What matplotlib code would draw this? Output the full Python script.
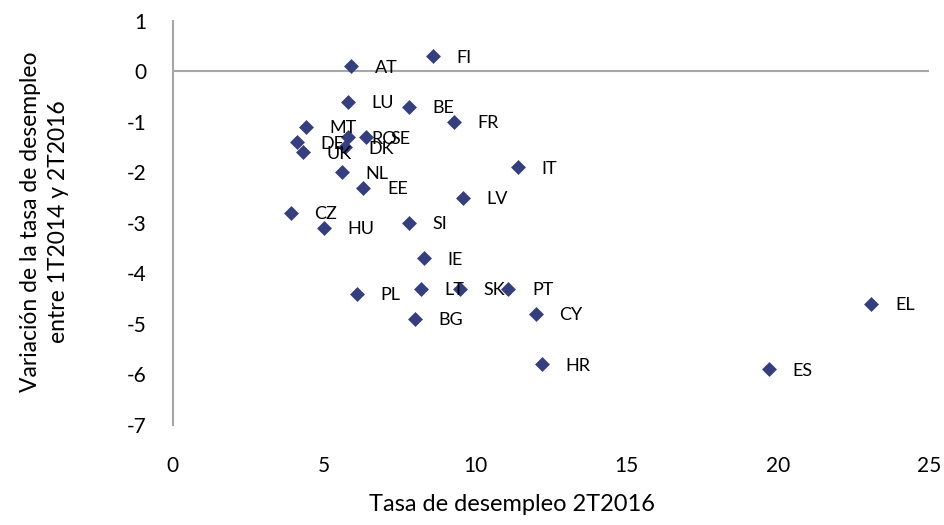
import matplotlib
matplotlib.use("Agg")
import matplotlib.pyplot as plt

# datos: tasa de desempleo 2T2016 y variación entre 1T2014 y 2T2016
paises = ["FI", "AT", "LU", "BE", "FR", "MT", "DE", "UK", "RO", "DK", "SE",
          "NL", "EE", "IT", "LV", "CZ", "HU", "SI", "IE", "PL", "LT", "SK",
          "PT", "BG", "CY", "HR", "ES", "EL"]
tasa_2016 = [8.6, 5.9, 5.8, 7.8, 9.3, 4.4, 4.1, 4.3, 5.8, 5.7, 6.4,
             5.6, 6.3, 11.4, 9.6, 3.9, 5.0, 7.8, 8.3, 6.1, 8.2, 9.5,
             11.1, 8.0, 12.0, 12.2, 19.7, 23.1]
variacion = [0.3, 0.1, -0.6, -0.7, -1.0, -1.1, -1.4, -1.6, -1.3, -1.5, -1.3,
             -2.0, -2.3, -1.9, -2.5, -2.8, -3.1, -3.0, -3.7, -4.4, -4.3, -4.3,
             -4.3, -4.9, -4.8, -5.8, -5.9, -4.6]

x_ticks = [0, 5, 10, 15, 20, 25]
y_ticks = [1, 0, -1, -2, -3, -4, -5, -6, -7]

plt.rcParams["font.family"] = ["Lato", "DejaVu Sans"]
plt.rcParams["axes.unicode_minus"] = False

fig = plt.figure(figsize=(9.44, 5.25), dpi=100)
ax = fig.add_axes([0.183, 0.1905, 0.801, 0.7695])

ax.scatter(tasa_2016, variacion, marker="D", s=7.6 ** 2, color="#353f7d",
           linewidths=0, zorder=3)
for p, xv, yv in zip(paises, tasa_2016, variacion):
    ax.annotate(p, (xv, yv), xytext=(17, -1), textcoords="offset points",
                ha="left", va="center", fontsize=13, color="#000000")

ax.axhline(0, color="#a6a6a6", lw=1.5, zorder=1)
ax.set_xlim(0, 25)
ax.set_ylim(-7, 1)
ax.set_xticks(x_ticks)
ax.set_yticks(y_ticks)
ax.tick_params(length=0, labelsize=15)
ax.tick_params(axis="x", pad=22)
ax.tick_params(axis="y", pad=19)

for s in ["top", "right", "bottom"]:
    ax.spines[s].set_visible(False)
ax.spines["left"].set_color("#a6a6a6")
ax.spines["left"].set_linewidth(1.5)

ax.set_xlabel("Tasa de desempleo 2T2016", fontsize=17)
ax.xaxis.set_label_coords(0.449, -0.172)
ax.set_ylabel("Variación de la tasa de desempleo\nentre 1T2014 y 2T2016",
              fontsize=16.5, linespacing=1.4)
ax.yaxis.set_label_coords(-0.137, 0.504)

fig.savefig("out.png", dpi=100)
